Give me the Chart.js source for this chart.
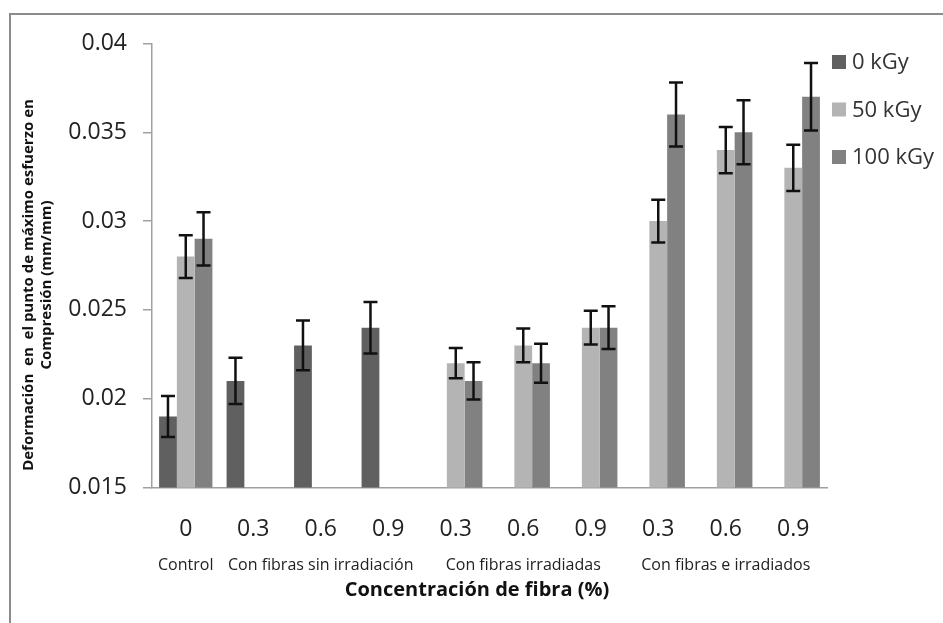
<!DOCTYPE html>
<html>
<head>
<meta charset="utf-8">
<script src="https://cdn.jsdelivr.net/npm/chart.js@4/dist/chart.umd.min.js"></script>
<style>
  body { margin: 0; background: #fff; }
  #wrap { width: 943px; height: 623px; }
</style>
</head>
<body>
<div id="wrap"><canvas id="barChart" width="943" height="623"></canvas></div>
<script>
// Fibre concentration (%) for each bar group, and the treatment groups below them
const concentrations = ['0', '0.3', '0.6', '0.9', '0.3', '0.6', '0.9', '0.3', '0.6', '0.9'];
const groupNames = ['Control', 'Con fibras sin irradiación', 'Con fibras irradiadas', 'Con fibras e irradiados'];
const groupRanges = [[0, 0], [1, 3], [4, 6], [7, 9]];

// Strain at max compressive stress (mm/mm) and its error, per dose
const dose0 = [0.019, 0.021, 0.023, 0.024, null, null, null, null, null, null];
const dose0Err = [0.00115, 0.0013, 0.0014, 0.00145, null, null, null, null, null, null];
const dose50 = [0.028, null, null, null, 0.022, 0.023, 0.024, 0.030, 0.034, 0.033];
const dose50Err = [0.0012, null, null, null, 0.00085, 0.00095, 0.00095, 0.0012, 0.0013, 0.0013];
const dose100 = [0.029, null, null, null, 0.021, 0.022, 0.024, 0.036, 0.035, 0.037];
const dose100Err = [0.0015, null, null, null, 0.00105, 0.0011, 0.0012, 0.0018, 0.0018, 0.0019];

const yTicks = [0.015, 0.02, 0.025, 0.03, 0.035, 0.04];

const FONT = "'Open Sans', 'Noto Sans', sans-serif";

// Black whiskers on top of every bar
const errorBars = {
  id: 'errorBars',
  afterDatasetsDraw(chart) {
    const ctx = chart.ctx;
    const yScale = chart.scales.y;
    ctx.save();
    ctx.strokeStyle = '#111';
    ctx.lineWidth = 2.5;
    chart.data.datasets.forEach((ds, i) => {
      const meta = chart.getDatasetMeta(i);
      meta.data.forEach((bar, j) => {
        const v = ds.data[j];
        const e = ds.errors[j];
        if (v == null || e == null) return;
        const top = yScale.getPixelForValue(v + e);
        const bot = yScale.getPixelForValue(v - e);
        const half = 7;
        ctx.beginPath();
        ctx.moveTo(bar.x, top);
        ctx.lineTo(bar.x, bot);
        ctx.moveTo(bar.x - half, top);
        ctx.lineTo(bar.x + half, top);
        ctx.moveTo(bar.x - half, bot);
        ctx.lineTo(bar.x + half, bot);
        ctx.stroke();
      });
    });
    ctx.restore();
  }
};

// Frame, legend, group names and axis titles
const decorations = {
  id: 'decorations',
  afterDraw(chart) {
    const ctx = chart.ctx;
    const xScale = chart.scales.x;
    ctx.save();

    // outer frame (runs off the right and bottom edges)
    ctx.strokeStyle = '#8c8c8c';
    ctx.lineWidth = 2;
    ctx.strokeRect(10, 14, 1000, 1000);

    // legend
    ctx.textBaseline = 'middle';
    ctx.textAlign = 'left';
    ctx.font = '22px ' + FONT;
    chart.data.datasets.forEach((ds, i) => {
      const cy = 62 + i * 47.5;
      ctx.fillStyle = ds.backgroundColor;
      ctx.fillRect(832, cy - 7, 14, 14);
      ctx.fillStyle = '#333';
      ctx.fillText(ds.label, 852, cy + 1);
    });

    // treatment group names under the category labels
    ctx.textAlign = 'center';
    ctx.fillStyle = '#222';
    ctx.font = '16px ' + FONT;
    groupNames.forEach((name, i) => {
      const [a, b] = groupRanges[i];
      const cx = (xScale.getPixelForValue(a) + xScale.getPixelForValue(b)) / 2;
      ctx.fillText(name, cx, 565);
    });

    // x axis title
    ctx.font = 'bold 20px ' + FONT;
    ctx.fillStyle = '#111';
    ctx.fillText('Concentración de fibra (%)', 477, 590);

    // y axis title, two lines
    ctx.translate(0, 285);
    ctx.rotate(-Math.PI / 2);
    ctx.font = 'bold 15px ' + FONT;
    ctx.fillText('Deformación  en  el punto de máximo esfuerzo en', 0, 29);
    ctx.fillText('Compresión (mm/mm)', 0, 47);

    ctx.restore();
  }
};

const ctx = document.getElementById('barChart').getContext('2d');

new Chart(ctx, {
  type: 'bar',
  data: {
    labels: concentrations,
    datasets: [
      { label: '0 kGy', data: dose0, errors: dose0Err, backgroundColor: '#606060' },
      { label: '50 kGy', data: dose50, errors: dose50Err, backgroundColor: '#b4b4b4' },
      { label: '100 kGy', data: dose100, errors: dose100Err, backgroundColor: '#818181' },
    ],
  },
  options: {
    responsive: false,
    animation: false,
    layout: { padding: { left: 0, top: 43.5, right: 116, bottom: 0 } },
    datasets: {
      bar: { barPercentage: 1, categoryPercentage: 0.79 },
    },
    plugins: {
      legend: { display: false },
      tooltip: { enabled: false },
    },
    scales: {
      x: {
        grid: { display: false, drawTicks: false },
        border: { color: '#a0a0a0', width: 1.5 },
        ticks: { color: '#222', font: { family: FONT, size: 23 }, padding: 28 },
        afterFit(scale) { scale.height = 135.5; },
      },
      y: {
        min: 0.015,
        max: 0.04,
        afterBuildTicks(scale) { scale.ticks = yTicks.map(v => ({ value: v })); },
        grid: { drawOnChartArea: false, tickLength: 9, color: '#a0a0a0', lineWidth: 1.5 },
        border: { color: '#a0a0a0', width: 1.5 },
        ticks: {
          color: '#222',
          font: { family: FONT, size: 23 },
          padding: 16,
          callback: v => String(v),
        },
        afterFit(scale) { scale.width = 152; },
      },
    },
  },
  plugins: [errorBars, decorations],
});
</script>
</body>
</html>
